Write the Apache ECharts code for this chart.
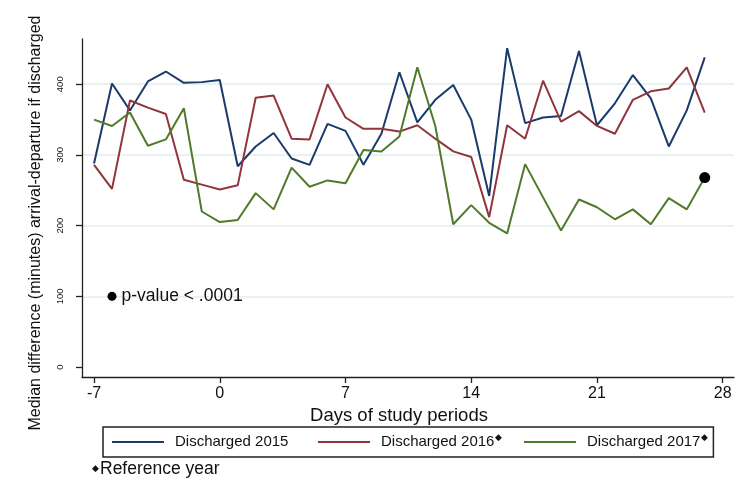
<!DOCTYPE html>
<html>
<head>
<meta charset="utf-8">
<script src="https://cdn.jsdelivr.net/npm/echarts@6/dist/echarts.min.js"></script>
<style>
  html, body { margin: 0; padding: 0; background: #fff; }
  #chart { width: 746px; height: 483px; }
</style>
</head>
<body>
<div id="chart"></div>
<script>
// ---- data ----
const days = [-7, -6, -5, -4, -3, -2, -1, 0, 1, 2, 3, 4, 5, 6, 7, 8, 9, 10, 11, 12, 13, 14, 15, 16, 17, 18, 19, 20, 21, 22, 23, 24, 25, 26, 27];
const discharged2015 = [288, 401, 363, 404, 418, 402, 403, 406, 284, 312, 331, 295, 286, 344, 334, 286, 330, 417, 346, 378, 399, 350, 242, 451, 345, 353, 355, 447, 342, 373, 413, 380, 312, 363, 438];
const discharged2016 = [286, 252, 377, 367, 358, 265, 258, 251, 257, 381, 384, 323, 322, 400, 353, 337, 337, 333, 342, 323, 305, 297, 212, 342, 323, 405, 347, 362, 341, 330, 378, 390, 394, 424, 360];
const discharged2017 = [350, 341, 360, 313, 322, 366, 220, 205, 208, 246, 223, 282, 255, 264, 260, 307, 305, 326, 424, 341, 202, 229, 204, 189, 287, 240, 193, 237, 226, 209, 223, 202, 239, 223, 268];
const seriesNames = ['Discharged 2015', 'Discharged 2016', 'Discharged 2017'];
const referenceYears = ['Discharged 2016', 'Discharged 2017'];
const xTicks = [-7, 0, 7, 14, 21, 28];
const yTicks = [0, 100, 200, 300, 400];
const endPoint = [27, 268];
const pValuePoint = [-6, 100];
const pValueText = 'p-value < .0001';
const xTitle = 'Days of study periods';
const yTitle = 'Median difference (minutes) arrival-departure if discharged';
const footnote = 'Reference year';

// ---- chart ----
const font = '"Liberation Sans", Arial, sans-serif';
const colors = ['#1a3a6b', '#90353b', '#4f7a2a'];
const pair = (vals) => days.map((d, i) => [d, vals[i]]);
const allSeries = [discharged2015, discharged2016, discharged2017];

const chart = echarts.init(document.getElementById('chart'), null, { renderer: 'canvas' });
chart.setOption({
  animation: false,
  backgroundColor: '#ffffff',
  textStyle: { fontFamily: font, color: '#111' },
  title: {
    text: '{d|◆}' + footnote,
    left: 92, top: 460, padding: 0,
    textStyle: {
      fontFamily: font, fontSize: 17.5, fontWeight: 'normal', color: '#111',
      rich: { d: { fontSize: 9, color: '#111', padding: [0, 1, 0, 0] } }
    }
  },
  grid: { left: 82, right: 12, top: 39, bottom: 106, containLabel: false },
  legend: {
    left: 103, top: 427,
    padding: [6, 5, 6, 9],
    orient: 'horizontal',
    itemWidth: 52, itemHeight: 2, itemGap: 9,
    icon: 'rect',
    borderColor: '#222', borderWidth: 1.5,
    data: [
      { name: seriesNames[0], textStyle: { width: 134 } },
      { name: seriesNames[1], textStyle: { width: 134 } },
      { name: seriesNames[2] }
    ],
    formatter: (name) => name + (referenceYears.includes(name) ? '{d|◆}' : ''),
    textStyle: {
      fontFamily: font, fontSize: 15, color: '#111', lineHeight: 18,
      padding: [0, 0, 0, 6],
      rich: { d: { fontSize: 9, color: '#111', verticalAlign: 'top', lineHeight: 18, padding: [0, 0, 0, 1] } }
    }
  },
  xAxis: {
    type: 'value', min: -7.67, max: 28.63,
    name: xTitle, nameLocation: 'middle', nameGap: 25,
    nameTextStyle: { fontFamily: font, fontSize: 18.5, color: '#111', padding: [0, 18, 0, 0] },
    axisLine: { show: true, onZero: false, lineStyle: { color: '#222', width: 1.3 } },
    axisTick: { show: true, length: 6, customValues: xTicks, lineStyle: { color: '#222', width: 1.3 } },
    axisLabel: { customValues: xTicks, fontSize: 16, margin: 9, color: '#111', fontFamily: font },
    splitLine: { show: false }
  },
  yAxis: {
    type: 'value', min: -14.1, max: 464,
    name: yTitle, nameLocation: 'middle', nameGap: 38, nameRotate: 90,
    nameTextStyle: { fontFamily: font, fontSize: 16, color: '#111', padding: [0, 30, 0, 0] },
    axisLine: { show: true, onZero: false, lineStyle: { color: '#222', width: 1.3 } },
    axisTick: { show: true, length: 6, customValues: yTicks, lineStyle: { color: '#222', width: 1.3 } },
    axisLabel: { customValues: yTicks, rotate: 90, fontSize: 9.5, margin: 17, color: '#111', fontFamily: font },
    splitLine: { show: true, lineStyle: { color: ['rgba(0,0,0,0)', '#e3ecee', '#e3ecee', '#e3ecee', '#e3ecee'], width: 1.5 } }
  },
  series: [
    ...allSeries.map((vals, i) => ({
      name: seriesNames[i], type: 'line', data: pair(vals),
      symbol: 'none', color: colors[i],
      lineStyle: { width: 2, color: colors[i] }
    })),
    {
      name: 'end', type: 'scatter', data: [endPoint], symbolSize: 11,
      itemStyle: { color: '#000', opacity: 1 }, z: 5
    },
    {
      name: 'pvalue', type: 'scatter', data: [pValuePoint], symbolSize: 9,
      itemStyle: { color: '#000', opacity: 1 },
      label: { show: true, position: 'right', distance: 5, formatter: pValueText, fontSize: 17.5, color: '#111', fontFamily: font }
    }
  ]
});
</script>
</body>
</html>
